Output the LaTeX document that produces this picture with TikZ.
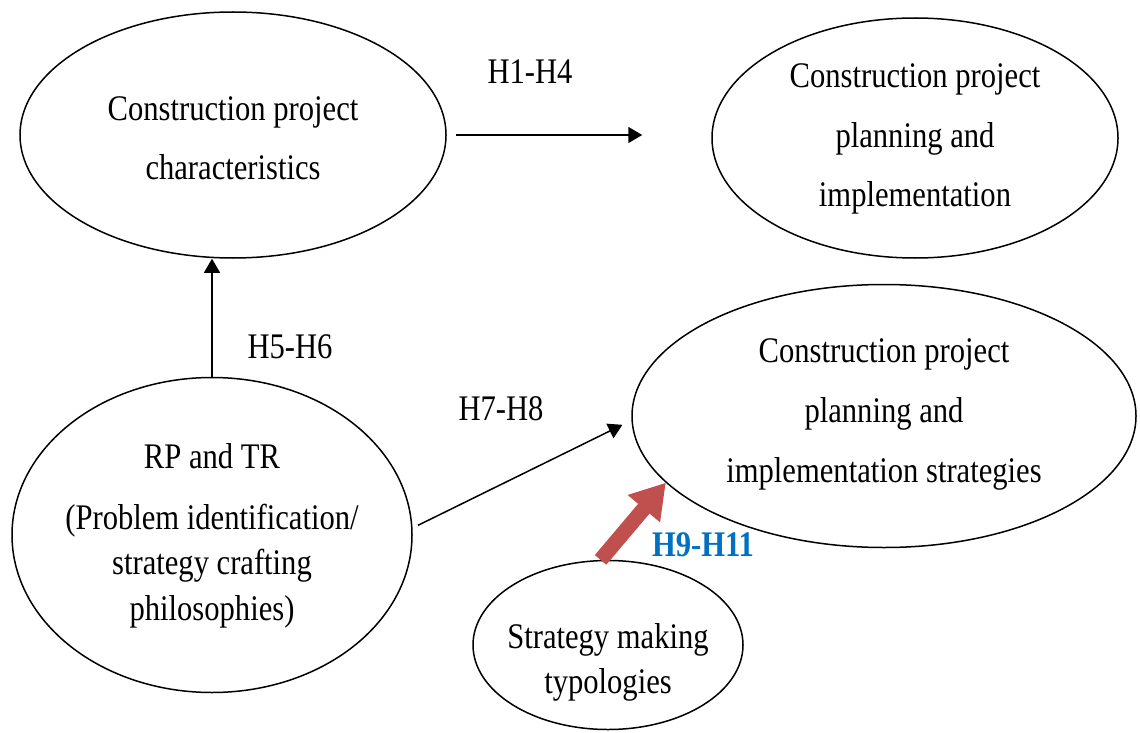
\documentclass[tikz,border=0pt]{standalone}
\usepackage{fontspec}
\setmainfont{Liberation Serif}[FakeStretch=0.85]
\usetikzlibrary{shapes.geometric,arrows.meta}
\definecolor{arrowred}{RGB}{192,80,77}
\definecolor{labelblue}{RGB}{0,112,192}

\begin{document}
\begin{tikzpicture}[x=1pt,y=-1pt,
  bubble/.style={draw,ellipse,line width=1.5pt,inner sep=0pt},
  caption/.style={align=center,inner sep=0pt},
  hyp/.style={inner sep=0pt,font=\fontsize{36}{43}\selectfont},
  link/.style={line width=1.5pt,-{Triangle[length=14pt,width=16pt]}},
  bigarrow/.style={line width=15pt,arrowred,-{Triangle[length=34pt,width=40pt]}},
]
\useasboundingbox (0,0) rectangle (1140,733);

% constructs
\node[bubble,minimum width=426pt,minimum height=246pt] (tl) at (233,135) {};
\node[bubble,minimum width=406pt,minimum height=240pt] (tr) at (915,138) {};
\node[bubble,minimum width=504pt,minimum height=263pt] (mr) at (884,416) {};
\node[bubble,minimum width=400pt,minimum height=315pt] (bl) at (212,535) {};
\node[bubble,minimum width=270pt,minimum height=169pt] (bm) at (608,645) {};

% construct names
\node[caption,font=\fontsize{36}{59}\selectfont] (tltext) at (233,138)
  {Construction project\\characteristics};
\node[caption,font=\fontsize{36}{59.5}\selectfont] (trtext) at (915,139)
  {Construction project\\planning and\\implementation};
\node[caption,font=\fontsize{36}{60}\selectfont] (mrtext) at (884,414)
  {Construction project\\planning and\\implementation strategies};
\node[caption,font=\fontsize{36}{45.5}\selectfont] (bltext) at (212,536)
  {RP and TR\\[15pt](Problem identification/\\strategy crafting\\philosophies)};
\node[caption,font=\fontsize{36}{45}\selectfont] (bmtext) at (608,662)
  {Strategy making\\typologies};

% hypothesised paths
\draw[link,shorten <=9pt,shorten >=69pt] (tl.east) -- (tl.east -| tr.west);
\draw[link] (bl.north) -- (bl.north |- tl.south);
\draw[link,shorten <=6pt,shorten >=10pt] (bl.2) -- (mr.181);
\draw[bigarrow] (bm.95) -- (mr.197);

% path labels
\node[hyp] (h14) at (530,72) {H1-H4};
\node[hyp] (h56) at (290,347) {H5-H6};
\node[hyp] (h78) at (501,409) {H7-H8};
\node[hyp,text=labelblue,font=\fontsize{36}{43}\selectfont\bfseries] (h911) at (703,545) {H9-H11};
\end{tikzpicture}
\end{document}
